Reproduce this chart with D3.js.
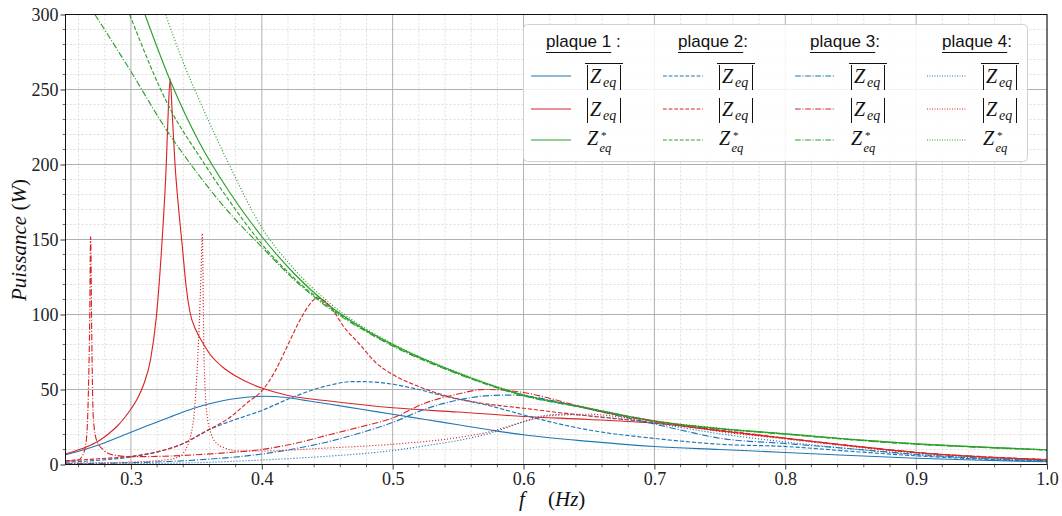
<!DOCTYPE html>
<html><head><meta charset="utf-8">
<script src="https://cdn.jsdelivr.net/npm/d3@7"></script>
<style>
body{margin:0;background:#fff;}
svg{display:block;}
</style></head><body>
<svg id="chart" width="1062" height="516"></svg>
<script>
// ---------- data (frequency f in Hz, power in W) ----------
const xTickValues = [0.3, 0.4, 0.5, 0.6, 0.7, 0.8, 0.9, 1.0];
const yTickValues = [0, 50, 100, 150, 200, 250, 300];
const plateTitles = ["plaque 1", "plaque 2", "plaque 3", "plaque 4"];
const plateTitleSuffix = [" :", ":", ":", ":"];

// plaque 1
const p1_avg = [[0.25,6.5],[0.26,8.8],[0.27,11.5],[0.28,14.5],[0.29,18],[0.3,21.5],[0.31,25],[0.32,28.3],[0.33,31.7],[0.34,35],[0.35,38],[0.36,40.5],[0.37,42.5],[0.38,44],[0.39,45],[0.4,45.5],[0.41,45.3],[0.42,44.5],[0.435,42.5],[0.45,40.5],[0.475,37],[0.5,33.5],[0.525,30],[0.55,26.5],[0.575,23],[0.6,19.8],[0.65,15.4],[0.7,12],[0.75,10],[0.8,8],[0.85,6],[0.9,4.2],[0.95,2.8],[1.0,1.8]];
const p1_abs = [[0.25,7],[0.255,8.3],[0.26,9.8],[0.265,11.3],[0.27,13.3],[0.275,15.5],[0.28,18.5],[0.285,22],[0.29,26],[0.295,31],[0.3,37],[0.305,44],[0.31,54],[0.315,70],[0.3196,100],[0.3235,145],[0.327,200],[0.3285,235],[0.33,257],[0.3315,235],[0.3337,200],[0.3365,170],[0.3393,145],[0.342,120],[0.345,102],[0.35,89],[0.355,81],[0.36,74],[0.37,65],[0.38,59],[0.39,54.5],[0.4,51],[0.42,46],[0.45,42.5],[0.5,37.8],[0.55,35],[0.6,32],[0.65,30],[0.7,27.5],[0.75,22.5],[0.8,17.5],[0.85,12.5],[0.9,8],[0.95,5],[1.0,3]];
const p1_star = [[0.3107,300],[0.33,256],[0.3527,214],[0.375,182],[0.4,152],[0.425,127],[0.45,107],[0.475,92],[0.5,80],[0.55,61],[0.6,46.3],[0.65,37.5],[0.7,29],[0.75,24],[0.8,20.5],[0.85,16.8],[0.9,13.8],[0.95,11.6],[1.0,9.8]];

// plaque 2
const p2_avg = [[0.25,1.5],[0.275,2.8],[0.3,5],[0.325,9.5],[0.34,14],[0.358,22.5],[0.375,28.5],[0.4,36],[0.424,45],[0.45,52.5],[0.47,55.3],[0.485,55],[0.5,53.5],[0.52,50],[0.54,45.5],[0.575,39],[0.6,33],[0.625,27.5],[0.65,23],[0.7,17.4],[0.75,13.5],[0.8,12],[0.85,8.8],[0.9,5.8],[0.95,3.6],[1.0,2]];
const p2_abs = [[0.25,2.5],[0.275,3.8],[0.3,5.5],[0.325,9.5],[0.34,14],[0.358,22.5],[0.375,31],[0.39,42],[0.4,49],[0.41,62],[0.419,78],[0.429,96],[0.436,106],[0.442,111],[0.448,109],[0.455,102],[0.4625,92],[0.475,80],[0.487,68],[0.5,60],[0.52,52],[0.54,46],[0.567,41],[0.6,37.5],[0.643,33],[0.7,28],[0.75,23],[0.8,17.5],[0.85,12.5],[0.9,8],[0.95,5.2],[1.0,3.3]];
const p2_star = [[0.299,300],[0.33,237],[0.3527,205],[0.375,176],[0.4,147],[0.425,124],[0.45,106],[0.475,91.5],[0.5,79.5],[0.55,60.7],[0.6,46.1],[0.65,37.3],[0.7,28.8],[0.75,23.8],[0.8,20.3],[0.85,16.6],[0.9,13.6],[0.95,11.5],[1.0,9.7]];

// plaque 3
const p3_avg = [[0.25,0.5],[0.3,1.2],[0.35,3],[0.4,7],[0.425,10.5],[0.45,15],[0.475,21],[0.5,28],[0.525,37],[0.55,43],[0.575,46],[0.59,46.3],[0.605,45.3],[0.625,42],[0.65,37],[0.675,32],[0.7,27],[0.725,22],[0.75,17.5],[0.8,14],[0.85,10.5],[0.9,6.8],[0.95,4.2],[1.0,2.5]];
const p3_abs = [[0.25,2.3],[0.2596,3],[0.2636,7],[0.266,17],[0.2674,45],[0.2684,90],[0.2692,152],[0.27,90],[0.2712,32],[0.2738,16],[0.279,9.7],[0.2865,6.4],[0.3,5.2],[0.325,5.5],[0.35,6.5],[0.375,8],[0.4,10],[0.425,14],[0.45,19.5],[0.475,25],[0.5,31],[0.525,41],[0.55,47],[0.57,50],[0.585,49.5],[0.6,48],[0.625,43],[0.65,37],[0.7,29],[0.75,22.5],[0.8,17.5],[0.85,12.5],[0.9,8],[0.95,5.2],[1.0,3.2]];
const p3_star = [[0.2725,300],[0.3,262],[0.325,226],[0.3527,192],[0.375,168],[0.4,145],[0.425,123],[0.45,105],[0.475,91],[0.5,79],[0.55,60.3],[0.6,45.8],[0.65,37.2],[0.7,28.7],[0.75,23.7],[0.8,20.2],[0.85,16.5],[0.9,13.5],[0.95,11.4],[1.0,9.6]];

// plaque 4
const p4_avg = [[0.25,0.3],[0.3,0.6],[0.35,1.2],[0.4,3],[0.45,5.5],[0.5,9.3],[0.525,12.5],[0.55,16],[0.575,21],[0.6,28.5],[0.615,32.5],[0.63,33.5],[0.65,32.5],[0.7,27.5],[0.75,20.5],[0.8,15],[0.85,10.5],[0.9,6.5],[0.95,4],[1.0,2.3]];
const p4_abs = [[0.25,1],[0.275,1.2],[0.3,1.6],[0.32,2.5],[0.335,4.5],[0.34,7.6],[0.347,25],[0.351,70],[0.3535,125],[0.3545,154],[0.3558,74],[0.358,34],[0.3615,20],[0.3655,14],[0.372,11],[0.383,9],[0.4,9],[0.45,11],[0.5,13.5],[0.55,18],[0.575,22],[0.6,28.5],[0.62,32.5],[0.65,33.5],[0.68,31],[0.7,29],[0.75,22],[0.8,17],[0.85,12],[0.9,7.8],[0.95,5],[1.0,3]];
const p4_star = [[0.3265,300],[0.34,268],[0.3527,242],[0.375,200],[0.4,158],[0.425,130],[0.45,109],[0.475,93],[0.5,80.5],[0.55,61.3],[0.6,46.5],[0.65,37.7],[0.7,29.2],[0.75,24.2],[0.8,20.6],[0.85,16.9],[0.9,13.9],[0.95,11.7],[1.0,9.9]];

// ---------- styling ----------
const BLUE = "#1f77b4", RED = "#d62728", GREEN = "#2ca02c";
const dashes = ["none", "4.2,1.9", "6.5,1.8,1.1,1.8", "1.1,1.9"];
const plateData = [
  [p1_avg, p1_abs, p1_star],
  [p2_avg, p2_abs, p2_star],
  [p3_avg, p3_abs, p3_star],
  [p4_avg, p4_abs, p4_star]
];
const kindColors = [BLUE, RED, GREEN];

const svg = d3.select("#chart");
const L = 65.5, R = 1047, T = 14.5, B = 464.5;
const x = d3.scaleLinear().domain([0.25, 1.0]).range([L, R]);
const y = d3.scaleLinear().domain([0, 300]).range([B, T]);

// clip
svg.append("defs").append("clipPath").attr("id", "plotclip")
  .append("rect").attr("x", L).attr("y", T).attr("width", R - L).attr("height", B - T);

// grid
const minorX = d3.range(13, 50).map(i => +(i * 0.02).toFixed(2)).filter(v => Math.abs(v * 10 - Math.round(v * 10)) > 1e-6);
const minorY = d3.range(0, 301, 10).filter(v => v % 50 !== 0);
const grid = svg.append("g");
grid.selectAll(".mx").data(minorX).enter().append("line")
  .attr("x1", d => x(d)).attr("x2", d => x(d)).attr("y1", T).attr("y2", B)
  .attr("stroke", "#cfcfcf").attr("stroke-width", 0.7).attr("stroke-dasharray", "2,2");
grid.selectAll(".my").data(minorY).enter().append("line")
  .attr("x1", L).attr("x2", R).attr("y1", d => y(d)).attr("y2", d => y(d))
  .attr("stroke", "#cfcfcf").attr("stroke-width", 0.7).attr("stroke-dasharray", "2,2");
grid.selectAll(".Mx").data(xTickValues).enter().append("line")
  .attr("x1", d => x(d)).attr("x2", d => x(d)).attr("y1", T).attr("y2", B)
  .attr("stroke", "#b0b0b0").attr("stroke-width", 1);
grid.selectAll(".My").data(yTickValues).enter().append("line")
  .attr("x1", L).attr("x2", R).attr("y1", d => y(d)).attr("y2", d => y(d))
  .attr("stroke", "#b0b0b0").attr("stroke-width", 1);

// curves
const line = d3.line().x(d => x(d[0])).y(d => y(d[1])).curve(d3.curveMonotoneX);
const curves = svg.append("g").attr("clip-path", "url(#plotclip)");
plateData.forEach((plate, pi) => {
  plate.forEach((data, ki) => {
    curves.append("path").datum(data).attr("d", line)
      .attr("fill", "none").attr("stroke", kindColors[ki])
      .attr("stroke-width", 1.15)
      .attr("stroke-dasharray", dashes[pi]);
  });
});

// axes
const tickFont = "'Liberation Serif', 'DejaVu Serif', serif";
const xAxis = d3.axisBottom(x).tickValues(xTickValues).tickFormat(d3.format(".1f")).tickSize(5).tickPadding(3).tickSizeOuter(0);
const yAxis = d3.axisLeft(y).tickValues(yTickValues).tickFormat(d3.format("d")).tickSize(5).tickPadding(2).tickSizeOuter(0);
const gx = svg.append("g").attr("transform", `translate(0,${B})`).call(xAxis);
const gy = svg.append("g").attr("transform", `translate(${L},0)`).call(yAxis);
[gx, gy].forEach(g => {
  g.select(".domain").remove();
  g.selectAll("text").attr("font-family", tickFont).attr("font-size", 18).attr("fill", "#222");
  g.selectAll("line").attr("stroke", "#222").attr("stroke-width", 0.9);
});
// minor ticks
svg.append("g").selectAll("line").data(minorX).enter().append("line")
  .attr("x1", d => x(d)).attr("x2", d => x(d)).attr("y1", B).attr("y2", B + 2.8)
  .attr("stroke", "#222").attr("stroke-width", 0.7);
svg.append("g").selectAll("line").data(minorY).enter().append("line")
  .attr("x1", L - 2.8).attr("x2", L).attr("y1", d => y(d)).attr("y2", d => y(d))
  .attr("stroke", "#222").attr("stroke-width", 0.7);

// frame
svg.append("rect").attr("x", L).attr("y", T).attr("width", R - L).attr("height", B - T)
  .attr("fill", "none").attr("stroke", "#111").attr("stroke-width", 1);

// axis labels
const mathFont = "'Liberation Serif', 'DejaVu Serif', serif";
const yl = svg.append("text").attr("transform", "translate(26,240) rotate(-90)")
  .attr("text-anchor", "middle").attr("font-family", mathFont).attr("font-size", 21).attr("fill", "#111");
yl.append("tspan").attr("font-style", "italic").text("Puissance");
yl.append("tspan").text(" (");
yl.append("tspan").attr("font-style", "italic").text("W");
yl.append("tspan").text(")");

const xl = svg.append("text").attr("x", 519).attr("y", 506)
  .attr("font-family", mathFont).attr("font-size", 21).attr("fill", "#111");
xl.append("tspan").attr("font-style", "italic").text("f");
xl.append("tspan").attr("x", 548).text("(");
xl.append("tspan").attr("font-style", "italic").text("Hz");
xl.append("tspan").text(")");

// legend
const lg = svg.append("g");
lg.append("rect").attr("x", 523.5).attr("y", 24.5).attr("width", 504).attr("height", 137).attr("rx", 4)
  .attr("fill", "#fff").attr("fill-opacity", 0.85).attr("stroke", "#d0d0d0").attr("stroke-width", 1);
const rowsY = [76, 109, 140];
const sansFont = "'Liberation Sans', Arial, sans-serif";

function mathEntry(g, x0, yc, kind) {
  const col = "#111";
  if (kind === 2) {
    g.append("text").attr("x", x0 + 2).attr("y", yc + 5).attr("font-family", mathFont)
      .attr("font-style", "italic").attr("font-size", 20).attr("fill", col).text("Z");
    g.append("text").attr("x", x0 + 16).attr("y", yc - 1).attr("font-family", mathFont)
      .attr("font-size", 11).attr("fill", col).text("*");
    g.append("text").attr("x", x0 + 14.5).attr("y", yc + 12.4).attr("font-family", mathFont)
      .attr("font-style", "italic").attr("font-size", 12.5).attr("fill", col).text("eq");
    return;
  }
  g.append("line").attr("x1", x0 + 2.5).attr("x2", x0 + 2.5).attr("y1", yc - 11).attr("y2", yc + 14)
    .attr("stroke", col).attr("stroke-width", 1);
  const t = g.append("text").attr("x", x0 + 5).attr("y", yc + 7).attr("font-family", mathFont)
    .attr("font-size", 20).attr("fill", col);
  t.append("tspan").attr("font-style", "italic").text("Z");
  t.append("tspan").attr("font-style", "italic").attr("font-size", 14).attr("x", x0 + 18).attr("dy", 4).text("eq");
  g.append("line").attr("x1", x0 + 35.5).attr("x2", x0 + 35.5).attr("y1", yc - 11).attr("y2", yc + 14)
    .attr("stroke", col).attr("stroke-width", 1);
  if (kind === 0) {
    g.append("line").attr("x1", x0).attr("x2", x0 + 38).attr("y1", yc - 12.5).attr("y2", yc - 12.5)
      .attr("stroke", col).attr("stroke-width", 1);
  }
}

const legendDashes = ["none", "3.8,1.8", "5.8,1.6,1.1,1.6", "1,1.5"];
plateTitles.forEach((title, pi) => {
  const cx = 132 * pi;
  const t = lg.append("text").attr("x", 546 + cx).attr("y", 46.5)
    .attr("font-family", sansFont).attr("font-size", 17).attr("fill", "#111");
  const main = t.append("tspan").text(title);
  t.append("tspan").text(plateTitleSuffix[pi]);
  const w = main.node().getComputedTextLength();
  lg.append("line").attr("x1", 546 + cx).attr("x2", 546 + cx + w).attr("y1", 52.5).attr("y2", 52.5)
    .attr("stroke", "#111").attr("stroke-width", 1);
  kindColors.forEach((c, ki) => {
    lg.append("line").attr("x1", 531 + cx).attr("x2", 571 + cx).attr("y1", rowsY[ki]).attr("y2", rowsY[ki])
      .attr("stroke", c).attr("stroke-width", 1.15).attr("stroke-dasharray", legendDashes[pi]);
    mathEntry(lg, 585 + cx, rowsY[ki], ki);
  });
});
</script>
</body></html>
